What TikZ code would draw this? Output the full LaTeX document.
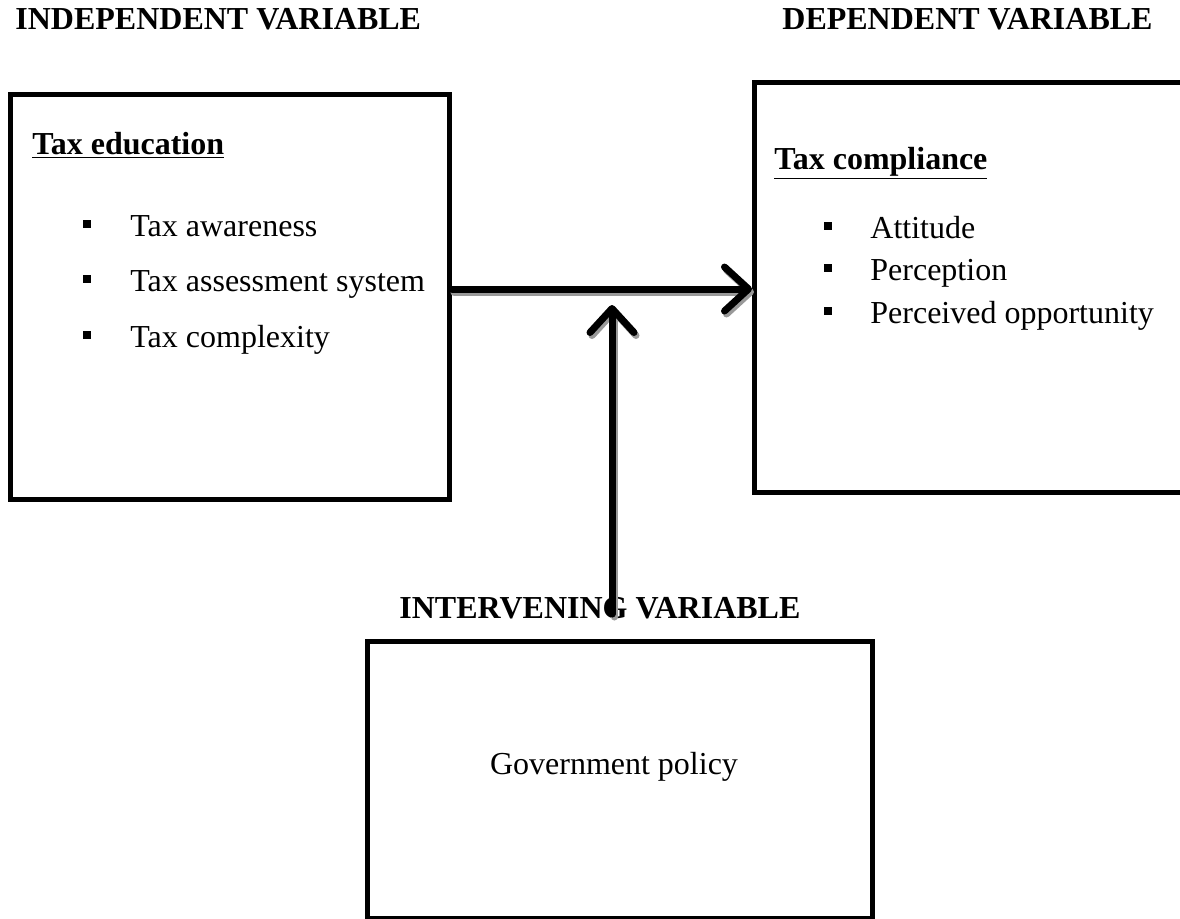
\documentclass[tikz,border=0pt]{standalone}
\usepackage{fontspec}
\setmainfont{Liberation Serif}
\usetikzlibrary{arrows.meta}

\tikzset{
  varbox/.style={draw, line width=2.5pt, inner sep=0pt, anchor=north west},
  txt/.style={anchor=base west, inner sep=0pt, font=\fontsize{16}{19}\selectfont},
  head/.style={txt, font=\fontsize{16}{19}\selectfont\bfseries},
  sqbullet/.style={fill, inner sep=0pt, minimum size=4pt},
  link/.style={line width=3.5pt, line cap=round,
    -{Straight Barb[length=12pt,width=22pt,round]}},
  linkshadow/.style={link, draw=black!40,
    transform canvas={xshift=1pt, yshift=-1.5pt}},
}

\begin{document}
\begin{tikzpicture}[x=0.5pt, y=-0.5pt]
        \useasboundingbox (0,0) rectangle (1180,918);
        \clip (0,0) rectangle (1180,918);

        % headings
        \node[head] (hind) at (15,29) {INDEPENDENT VARIABLE};
        \node[head] (hdep) at (782,29) {DEPENDENT VARIABLE};
        \node[head] (hint) at (399,618) {INTERVENING VARIABLE};

        % boxes
        \node[varbox, minimum width=219.5pt, minimum height=202.5pt] (L) at (8,92) {};
        \node[varbox, minimum width=224pt, minimum height=205pt] (R) at (752,80) {};
        \node[varbox, minimum width=252.5pt, minimum height=138.5pt] (G) at (365,639) {};

        % tax education
        \node[head] (tedu) at (32,154) {\underline{Tax education}};
        \foreach \t/\y [count=\i] in {Tax awareness/236,
            Tax assessment system/291, Tax complexity/347} {
          \node[sqbullet] (lb\i) at (87,\y-12) {};
          \node[txt] (lt\i) at (130,\y) {\t};
        }

        % tax compliance
        \node[head] (tcom) at (774,169) {\underline{Tax compliance}};
        \foreach \t/\y [count=\i] in {Attitude/238,
            Perception/280, Perceived opportunity/323} {
          \node[sqbullet] (rb\i) at (828,\y-12) {};
          \node[txt] (rt\i) at (870,\y) {\t};
        }

        % government policy
        \node[txt, anchor=base] (gpol) at (614,774) {Government policy};

        % arrows
        \coordinate (mid) at (612,289);
        \coordinate (vbase) at (612,614);

        \draw[linkshadow] (L.east |- mid) -- (R.west |- mid);
        \draw[linkshadow] (vbase) -- ([yshift=-8pt]mid);
        \draw[link] (L.east |- mid) -- (R.west |- mid);
        \draw[link] (vbase) -- ([yshift=-8pt]mid);
      \end{tikzpicture}
\end{document}
